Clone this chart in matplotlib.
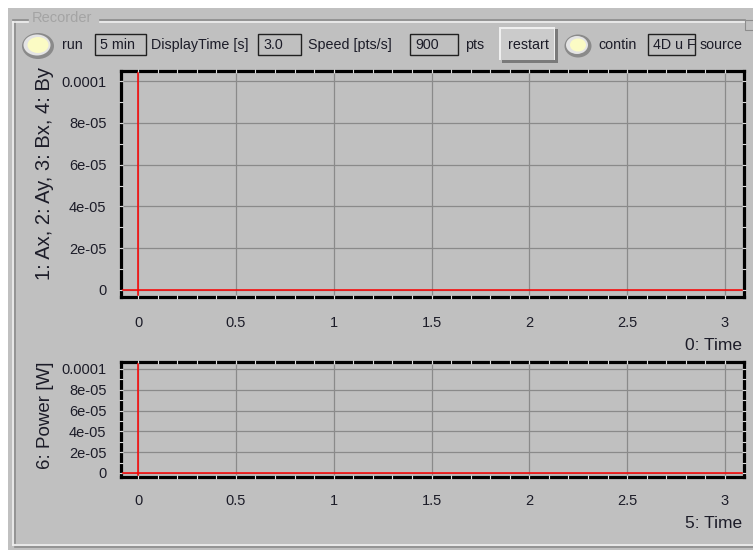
import matplotlib
matplotlib.use("Agg")
import matplotlib.pyplot as plt
from matplotlib.patches import Rectangle, Ellipse
from matplotlib.lines import Line2D
from matplotlib.ticker import FixedLocator, MultipleLocator

plt.rcParams["font.family"] = ["Liberation Sans", "DejaVu Sans"]

# ---- data -------------------------------------------------------------
time_ticks = [0, 0.5, 1, 1.5, 2, 2.5, 3]
time_labels = ["0", "0.5", "1", "1.5", "2", "2.5", "3"]
value_ticks = [0, 2e-5, 4e-5, 6e-5, 8e-5, 1e-4]
value_labels = ["0", "2e-05", "4e-05", "6e-05", "8e-05", "0.0001"]
trace_time = [0]          # cursor position of the (empty) traces
trace_level = [0]         # current value of the (empty) traces
field_label = "1: Ax, 2: Ay, 3: Bx, 4: By"
power_label = "6: Power [W]"
field_xlabel = "0: Time"
power_xlabel = "5: Time"

controls = [("run", 62), ("DisplayTime [s]", 151), ("Speed [pts/s]", 308),
            ("pts", 465), ("contin", 598), ("source", 700)]
boxes = [("5 min", 95, 146), ("3.0", 258, 301), ("900", 410, 458), ("4D u F", 648, 695)]

BG = "#c0c0c0"
TXT = "#1c1c28"
W, H = 753, 550

fig = plt.figure(figsize=(W / 100, H / 100), dpi=100, facecolor="white")


def fx(x):
    return x / W


def fy(y):
    return 1 - y / H


# panel background and etched group box
fig.patches.append(Rectangle((fx(8), 0), 1, fy(8), transform=fig.transFigure,
                             facecolor=BG, edgecolor="none", zorder=-5))
for xs, ys, c in [([13, 13], [22, 545], "#f0f0f0"), ([15, 15], [22, 543], "#8c8c8c"),
                  ([13, 753], [545, 545], "#f0f0f0"), ([15, 753], [547, 547], "#8c8c8c"),
                  ([13, 28], [20, 20], "#8c8c8c"), ([13, 28], [22, 22], "#f0f0f0"),
                  ([100, 745], [20, 20], "#8c8c8c"), ([100, 745], [22, 22], "#f0f0f0")]:
    fig.add_artist(Line2D([fx(v) for v in xs], [fy(v) for v in ys], color=c, lw=1.2,
                          transform=fig.transFigure, zorder=-4))
fig.patches.append(Rectangle((fx(745), fy(30)), fx(10), 10 / H, transform=fig.transFigure,
                             facecolor=BG, edgecolor="#8c8c8c", lw=0.8))
fig.text(fx(32), fy(18), "Recorder", color="#a4a4a4", fontsize=10.5, ha="left", va="center")

# control row
ROW = 45
for label, x in controls:
    fig.text(fx(x), fy(ROW), label, color=TXT, fontsize=10.3, ha="left", va="center")
for label, x0, x1 in boxes:
    fig.patches.append(Rectangle((fx(x0), fy(55)), fx(x1 - x0), 21 / H, transform=fig.transFigure,
                                 facecolor=BG, edgecolor="#202020", lw=1.0))
    fig.text(fx(x0 + 5), fy(ROW), label, color=TXT, fontsize=10.3, ha="left", va="center")

# restart button (raised)
fig.patches.append(Rectangle((fx(502), fy(63)), fx(56), 34 / H, transform=fig.transFigure,
                             facecolor="#7a7a7a", edgecolor="none"))
fig.patches.append(Rectangle((fx(499), fy(60)), fx(56), 33 / H, transform=fig.transFigure,
                             facecolor="#efefef", edgecolor="none"))
fig.patches.append(Rectangle((fx(501), fy(60)), fx(53), 31 / H, transform=fig.transFigure,
                             facecolor="#cbcbcb", edgecolor="none"))
fig.text(fx(528), fy(ROW), "restart", color=TXT, fontsize=10.3, ha="center", va="center")

# LEDs
for cx, w, h in [(38, 32, 26), (578, 27, 23)]:
    fig.patches.append(Ellipse((fx(cx), fy(ROW + 1)), fx(w), h / H, transform=fig.transFigure,
                               facecolor="#8a8a8a", edgecolor="none"))
    fig.patches.append(Ellipse((fx(cx - 1), fy(ROW)), fx(w - 5), (h - 5) / H, transform=fig.transFigure,
                               facecolor="#e4e4e4", edgecolor="none"))
    fig.patches.append(Ellipse((fx(cx), fy(ROW)), fx(w - 11), (h - 10) / H, transform=fig.transFigure,
                               facecolor="#fbfbc4", edgecolor="none"))


def make_axes(top, bottom, ylim, xpad):
    left, right = 121, 744
    ax = fig.add_axes([fx(left), fy(bottom), fx(right - left), (bottom - top) / H])
    ax.set_facecolor(BG)
    ax.set_xlim(-0.087, 3.097)
    ax.set_ylim(*ylim)
    ax.xaxis.set_major_locator(FixedLocator(time_ticks))
    ax.set_xticklabels(time_labels)
    ax.yaxis.set_major_locator(FixedLocator(value_ticks))
    ax.set_yticklabels(value_labels)
    ax.xaxis.set_minor_locator(MultipleLocator(0.1))
    ax.yaxis.set_minor_locator(MultipleLocator(1e-5))
    ax.grid(True, which="major", color="#8a8a8a", lw=0.9)
    ax.tick_params(which="both", direction="inout", length=3, width=0.8, color="#dcdcdc",
                   top=True, right=True)
    ax.tick_params(axis="x", which="major", pad=xpad, labelsize=10.5, labelcolor=TXT)
    ax.tick_params(axis="y", which="major", pad=9, labelsize=10.5, labelcolor=TXT)
    for s in ax.spines.values():
        s.set_linewidth(2.3)
        s.set_color("black")
    ax.xaxis.set_zorder(2.6)
    ax.yaxis.set_zorder(2.6)
    # keep the red traces inside the thick frame
    iy = 1.6 / (bottom - top)
    ix = 1.6 / (right - left)
    for t in trace_time:
        ax.axvline(t, ymin=iy, ymax=1 - iy, color="red", lw=1.1, zorder=3)
    for v in trace_level:
        ax.axhline(v, xmin=ix, xmax=1 - ix, color="red", lw=1.1, zorder=3)
    return ax


ax1 = make_axes(71, 297, (-3.35e-6, 1.048e-4), 12)
ax2 = make_axes(362, 477, (-3.85e-6, 1.067e-4), 11)

fig.text(fx(45), fy(174), field_label, rotation=90, ha="center", va="center",
         fontsize=14.5, color=TXT)
fig.text(fx(45), fy(415), power_label, rotation=90, ha="center", va="center",
         fontsize=13.5, color=TXT)
fig.text(fx(742), fy(345), field_xlabel, ha="right", va="center", fontsize=12.5, color=TXT)
fig.text(fx(742), fy(524), power_xlabel, ha="right", va="center", fontsize=12.5, color=TXT)

fig.savefig("out.png", dpi=100, facecolor="white")
